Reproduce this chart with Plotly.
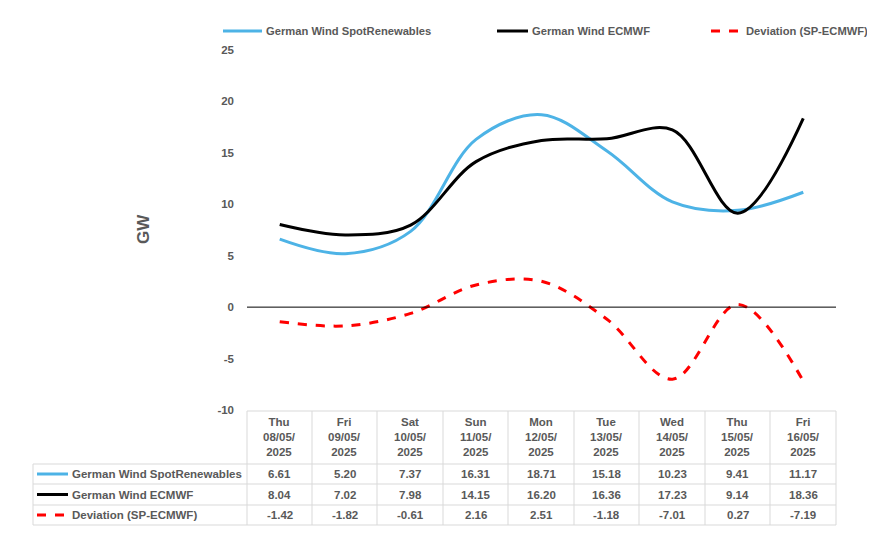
import plotly.graph_objects as go

days = ["Thu", "Fri", "Sat", "Sun", "Mon", "Tue", "Wed", "Thu", "Fri"]
dates = ["08/05/2025", "09/05/2025", "10/05/2025", "11/05/2025", "12/05/2025",
         "13/05/2025", "14/05/2025", "15/05/2025", "16/05/2025"]
spot = [6.61, 5.20, 7.37, 16.31, 18.71, 15.18, 10.23, 9.41, 11.17]
ecmwf = [8.04, 7.02, 7.98, 14.15, 16.20, 16.36, 17.23, 9.14, 18.36]
deviation = [-1.42, -1.82, -0.61, 2.16, 2.51, -1.18, -7.01, 0.27, -7.19]
series_names = ["German Wind SpotRenewables", "German Wind ECMWF", "Deviation (SP-ECMWF)"]
y_ticks = [-10, -5, 0, 5, 10, 15, 20, 25]

OFF = 8  # page body margin
W, H = 875 - OFF, 538 - OFF
L, R, T, B = 247, 836, 50, 410  # reference pixel coords
colors = ["#4DB3E6", "#000000", "#FF0000"]
dashes = ["solid", "solid", "dash"]
GRAY = "#595959"
GRID = "#D9D9D9"
FONT = "Liberation Sans"
FS = 11.5


def px(x):
    return (x - L) / (R - L)


def py(y):
    return (B - y) / (B - T)


xs = list(range(len(days)))
fig = go.Figure()
for vals, c, d, n in zip([spot, ecmwf, deviation], colors, dashes, series_names):
    fig.add_trace(go.Scatter(x=xs, y=vals, mode="lines", name=n,
                             line=dict(color=c, width=3, dash=d, shape="spline", smoothing=1.0),
                             showlegend=False, hoverinfo="skip"))

shapes = []
annotations = []

# zero line
shapes.append(dict(type="line", xref="paper", yref="y", x0=0, x1=1, y0=0, y1=0,
                   line=dict(color="black", width=1)))

# table geometry
col_edges = [247, 312, 377, 443, 508, 574, 639, 705, 770, 836]
h_lines = [411, 464, 484, 505, 525]
for xe in col_edges:
    shapes.append(dict(type="line", xref="paper", yref="paper", x0=px(xe), x1=px(xe),
                       y0=py(411), y1=py(525), line=dict(color=GRID, width=1)))
shapes.append(dict(type="line", xref="paper", yref="paper", x0=px(33), x1=px(33),
                   y0=py(464), y1=py(525), line=dict(color=GRID, width=1)))
shapes.append(dict(type="line", xref="paper", yref="paper", x0=px(247), x1=px(836),
                   y0=py(411), y1=py(411), line=dict(color=GRID, width=1)))
for hy in h_lines[1:]:
    shapes.append(dict(type="line", xref="paper", yref="paper", x0=px(33), x1=px(836),
                       y0=py(hy), y1=py(hy), line=dict(color=GRID, width=1)))

# header text
for i, (d, dt) in enumerate(zip(days, dates)):
    cx = (col_edges[i] + col_edges[i + 1]) / 2
    parts = dt.split("/")
    txt = f"<b>{d}<br>{parts[0]}/{parts[1]}/<br>{parts[2]}</b>"
    annotations.append(dict(xref="paper", yref="paper", x=px(cx), y=py(437), text=txt,
                            showarrow=False, xanchor="center", yanchor="middle",
                            font=dict(family=FONT, size=FS, color=GRAY), align="center"))

row_centers = [474, 494.5, 515]
for r, (vals, c, d, n) in enumerate(zip([spot, ecmwf, deviation], colors, dashes, series_names)):
    yc = row_centers[r]
    shapes.append(dict(type="line", xref="paper", yref="paper", x0=px(37), x1=px(68),
                       y0=py(yc), y1=py(yc), line=dict(color=c, width=3, dash=d)))
    annotations.append(dict(xref="paper", yref="paper", x=px(70), y=py(yc), text=f"<b>{n}</b>",
                            showarrow=False, xanchor="left", yanchor="middle",
                            font=dict(family=FONT, size=FS, color=GRAY)))
    for i, v in enumerate(vals):
        cx = (col_edges[i] + col_edges[i + 1]) / 2
        annotations.append(dict(xref="paper", yref="paper", x=px(cx), y=py(yc), text=f"<b>{v:.2f}</b>",
                                showarrow=False, xanchor="center", yanchor="middle",
                                font=dict(family=FONT, size=FS, color=GRAY)))

# top legend
legend_items = [(223, 262, 264), (497, 528, 530), (711, 742, 744)]
for (x0, x1, tx), c, d, n in zip(legend_items, colors, dashes, series_names):
    shapes.append(dict(type="line", xref="paper", yref="paper", x0=px(x0), x1=px(x1),
                       y0=py(31), y1=py(31), line=dict(color=c, width=3, dash=d)))
    annotations.append(dict(xref="paper", yref="paper", x=px(tx), y=py(31), text=f"<b>{n}</b>",
                            showarrow=False, xanchor="left", yanchor="middle",
                            font=dict(family=FONT, size=11.2, color=GRAY)))

# y axis title
annotations.append(dict(xref="paper", yref="paper", x=px(143), y=py(229), text="<b>GW</b>",
                        showarrow=False, textangle=-90, xanchor="center", yanchor="middle",
                        font=dict(family="Liberation Sans", size=17, color=GRAY)))

fig.update_layout(
    width=W, height=H,
    margin=dict(l=L - OFF, r=W - (R - OFF), t=T - OFF, b=H - (B - OFF)),
    paper_bgcolor="white", plot_bgcolor="white",
    xaxis=dict(range=[-0.5, 8.5], showticklabels=False, showgrid=False, zeroline=False,
               showline=False, fixedrange=True),
    yaxis=dict(range=[-10, 25], tickvals=y_ticks, ticktext=[f"<b>{t}</b>" for t in y_ticks],
               showgrid=False, zeroline=False, showline=False, ticks="",
               tickfont=dict(family=FONT, size=FS, color=GRAY), ticklabelstandoff=12),
    shapes=shapes, annotations=annotations, showlegend=False,
)
fig.write_html("out.html")
